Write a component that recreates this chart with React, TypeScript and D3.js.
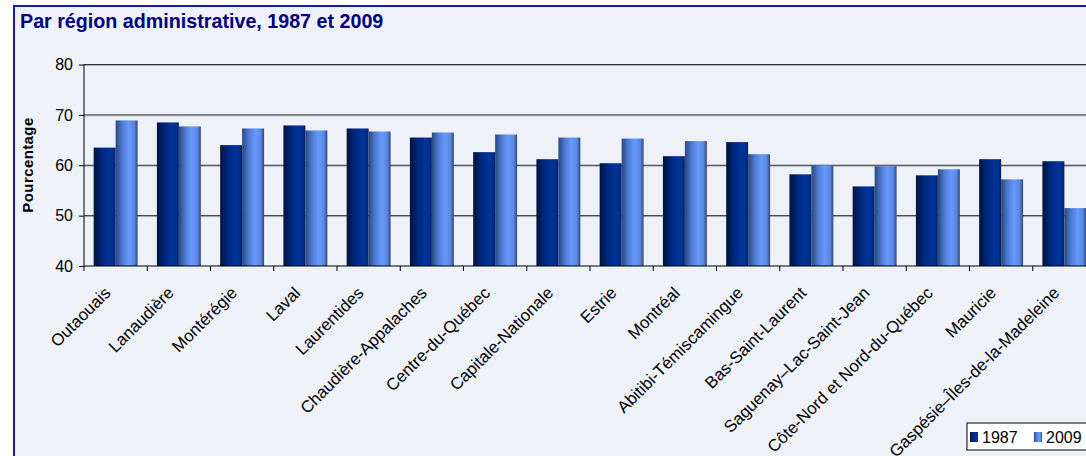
import { useEffect, useRef } from "react";
import * as d3 from "d3";

const regions = [
  "Outaouais",
  "Lanaudière",
  "Montérégie",
  "Laval",
  "Laurentides",
  "Chaudière-Appalaches",
  "Centre-du-Québec",
  "Capitale-Nationale",
  "Estrie",
  "Montréal",
  "Abitibi-Témiscamingue",
  "Bas-Saint-Laurent",
  "Saguenay–Lac-Saint-Jean",
  "Côte-Nord et Nord-du-Québec",
  "Mauricie",
  "Gaspésie–Îles-de-la-Madeleine",
];
const years = ["1987", "2009"];
const values1987 = [63.5, 68.5, 64.0, 67.9, 67.3, 65.5, 62.6, 61.2, 60.4, 61.8, 64.6, 58.2, 55.8, 58.0, 61.2, 60.8];
const values2009 = [68.9, 67.7, 67.3, 66.9, 66.7, 66.5, 66.1, 65.5, 65.3, 64.8, 62.2, 60.0, 59.8, 59.2, 57.2, 51.5];
const yTicks = [40, 50, 60, 70, 80];

const W = 1086;
const H = 456;
const font = "Arial, 'Liberation Sans', sans-serif";

const draw = (ref: SVGSVGElement) => {
  const svg = d3.select(ref);
  svg.selectAll("*").remove();

  const x = d3
    .scaleBand<string>()
    .domain(regions)
    .range([84, 84 + 63.25 * regions.length])
    .padding(0);
  const xi = d3
    .scaleBand<string>()
    .domain(years)
    .range([0, x.bandwidth()])
    .paddingInner(0)
    .paddingOuter(0.44);
  const y = d3.scaleLinear().domain([40, 80]).range([266, 64.5]);

  const defs = svg.append("defs");
  const grads: Record<string, [number, string][]> = {
    g1987: [
      [0, "#001338"],
      [0.35, "#00277d"],
      [0.7, "#003399"],
      [0.9, "#002f8c"],
      [1, "#001d5e"],
    ],
    g2009: [
      [0, "#2a477f"],
      [0.3, "#4f7bd0"],
      [0.6, "#6699ff"],
      [0.85, "#5a86e0"],
      [1, "#2c4678"],
    ],
  };
  Object.entries(grads).forEach(([id, stops]) => {
    const g = defs.append("linearGradient").attr("id", id).attr("x1", 0).attr("x2", 1).attr("y1", 0).attr("y2", 0);
    stops.forEach(([o, c]) => g.append("stop").attr("offset", o).attr("stop-color", c));
  });

  // frame
  svg.append("rect").attr("width", W).attr("height", H).attr("fill", "#ffffff");
  svg
    .append("rect")
    .attr("x", 14)
    .attr("y", 6)
    .attr("width", W + 20)
    .attr("height", H + 20)
    .attr("fill", "#eef1f8")
    .attr("stroke", "#1a1aa8")
    .attr("stroke-width", 2);

  svg
    .append("text")
    .attr("x", 20)
    .attr("y", 28)
    .attr("fill", "#000080")
    .style("font", `bold 19.7px ${font}`)
    .text("Par région administrative, 1987 et 2009");

  // gridlines
  const grid = svg.append("g");
  yTicks.slice(1).forEach((t) => {
    grid
      .append("line")
      .attr("x1", 84)
      .attr("x2", W)
      .attr("y1", y(t) + 1)
      .attr("y2", y(t) + 1)
      .attr("stroke", "#b0b0b8");
    grid
      .append("line")
      .attr("x1", 84)
      .attr("x2", W)
      .attr("y1", y(t))
      .attr("y2", y(t))
      .attr("stroke", "#333");
  });

  // bars
  const groups = svg
    .append("g")
    .selectAll("g")
    .data(regions)
    .enter()
    .append("g")
    .attr("transform", (d) => `translate(${x(d)} 0)`);
  groups.each(function (d, i) {
    const el = d3.select(this);
    [values1987[i], values2009[i]].forEach((v, k) => {
      el.append("rect")
        .attr("x", xi(years[k])!)
        .attr("y", y(v))
        .attr("width", xi.bandwidth())
        .attr("height", y(40) - y(v))
        .attr("fill", `url(#g${years[k]})`);
    });
  });

  // y axis
  const yAxis = d3.axisLeft(y).tickValues(yTicks).tickSize(5).tickPadding(6);
  const ya = svg.append("g").attr("transform", "translate(84 0)").call(yAxis);
  ya.select(".domain").attr("stroke", "#000").attr("d", `M0,${y(80)}V${y(40)}`);
  ya.selectAll(".tick line").attr("stroke", "#000");
  ya.selectAll("text").style("font", `16px ${font}`).attr("fill", "#000");

  // x axis
  const xAxis = d3.axisBottom(x).tickSize(0).tickFormat(() => "");
  const xa = svg.append("g").attr("transform", `translate(0 ${y(40)})`).call(xAxis);
  xa.select(".domain").attr("stroke", "#000").attr("d", `M84,0H${W}`);
  regions.forEach((r) => {
    xa.append("line")
      .attr("x1", x(r)!)
      .attr("x2", x(r)!)
      .attr("y1", 0)
      .attr("y2", 5)
      .attr("stroke", "#000");
  });
  xa.selectAll(".tick").remove();
  svg
    .append("g")
    .selectAll("text")
    .data(regions)
    .enter()
    .append("text")
    .attr("transform", (d) => `translate(${x(d)! + x.bandwidth() / 2 - 4} 294) rotate(-45)`)
    .attr("text-anchor", "end")
    .style("font", `16.8px ${font}`)
    .attr("fill", "#000")
    .text((d) => d);

  svg
    .append("text")
    .attr("transform", "translate(33 165) rotate(-90)")
    .attr("text-anchor", "middle")
    .style("font", `bold 15px ${font}`)
    .style("letter-spacing", "0.4px")
    .text("Pourcentage");

  // legend
  const lg = svg.append("g").attr("transform", "translate(967 423)");
  lg.append("rect")
    .attr("width", 140)
    .attr("height", 27)
    .attr("fill", "#ffffff")
    .attr("stroke", "#000")
    .attr("stroke-width", 1);
  years.forEach((yr, k) => {
    const ox = 3 + k * 64;
    lg.append("rect")
      .attr("x", ox)
      .attr("y", 9)
      .attr("width", 8)
      .attr("height", 10)
      .attr("fill", `url(#g${yr})`);
    lg.append("text")
      .attr("x", ox + 12)
      .attr("y", 20)
      .style("font", `16px ${font}`)
      .text(yr);
  });
};

export default function App() {
  const ref = useRef<SVGSVGElement>(null);
  useEffect(() => {
    if (ref.current) draw(ref.current);
  }, []);
  return (
    <svg
      ref={ref}
      width={W}
      height={H}
      style={{ position: "absolute", left: 0, top: 0, display: "block" }}
    />
  );
}
